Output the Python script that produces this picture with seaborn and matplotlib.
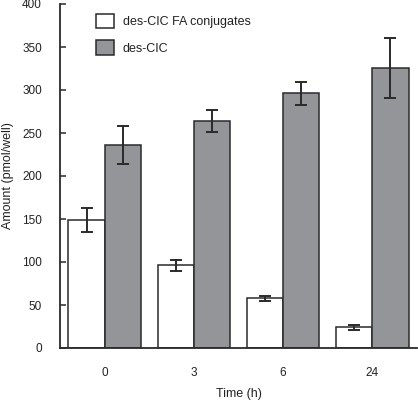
import matplotlib
matplotlib.use("Agg")
import matplotlib.pyplot as plt
import seaborn as sns
import pandas as pd
import numpy as np
from matplotlib.patches import Patch

times = ["0", "3", "6", "24"]
series = ["des-CIC FA conjugates", "des-CIC"]
conj_vals = [149, 96, 58, 24]
conj_err = [14, 6, 3, 2.5]
cic_vals = [236, 264, 296, 326]
cic_err = [22, 12.5, 13, 35]

sns.set_theme(style="white")
plt.rcParams['font.family'] = ['Liberation Sans', 'DejaVu Sans']

df = pd.DataFrame({
    "Time": times * 2,
    "Series": [series[0]] * 4 + [series[1]] * 4,
    "Amount": conj_vals + cic_vals,
})
errs = conj_err + cic_err

fig = plt.figure(figsize=(4.18, 4.01), dpi=100)
ax = fig.add_axes([60/418, 1 - 348/401, 357/418, 344/401])

edge = "#2a2a2a"
sns.barplot(data=df, x="Time", y="Amount", hue="Series", order=times,
            hue_order=series, palette=["#ffffff", "#939598"], width=0.81,
            edgecolor=edge, linewidth=1.1, errorbar=None, ax=ax, legend=False,
            saturation=1)

# error bars at bar centers
bars = [p for p in ax.patches if p.get_height() > 0]
for b in bars:
    cx = b.get_x() + b.get_width() / 2
    h = b.get_height()
    for v, e in zip(conj_vals + cic_vals, errs):
        if abs(v - h) < 1e-6:
            ax.errorbar(cx, h, yerr=e, fmt="none", ecolor=edge,
                        elinewidth=1.4, capsize=4, capthick=1.4, zorder=5)
            break

ax.set_xlim(-0.5, 3.5)
ax.set_ylim(0, 400)
ax.set_yticks(np.arange(0, 401, 50))
for s in ["top", "right"]:
    ax.spines[s].set_visible(False)
for s in ["left", "bottom"]:
    ax.spines[s].set_color(edge)
    ax.spines[s].set_linewidth(1.3)

ax.tick_params(axis="y", direction="in", length=4, width=1.1, color=edge,
               labelsize=8.5, pad=13, left=True, labelcolor="#222222")
ax.tick_params(axis="x", length=0, labelsize=8.5, pad=14, labelcolor="#222222")
ax.set_xlabel("Time (h)", fontsize=9, color="#222222", labelpad=6)
ax.set_ylabel("Amount (pmol/well)", fontsize=9, color="#222222")
ax.yaxis.set_label_coords(-(60 - 14) / 357, 0.5)

handles = [Patch(facecolor="#ffffff", edgecolor=edge, linewidth=1.1),
           Patch(facecolor="#939598", edgecolor=edge, linewidth=1.1)]
leg = ax.legend(handles, series, loc="upper left",
                bbox_to_anchor=((96 - 60) / 357, (348 - 14) / 344),
                frameon=False, fontsize=9, handlelength=1.4, handleheight=1.4,
                handletextpad=0.75, labelspacing=0.95, borderpad=0,
                borderaxespad=0)
for t in leg.get_texts():
    t.set_color("#222222")

fig.savefig("out.png", dpi=100)
